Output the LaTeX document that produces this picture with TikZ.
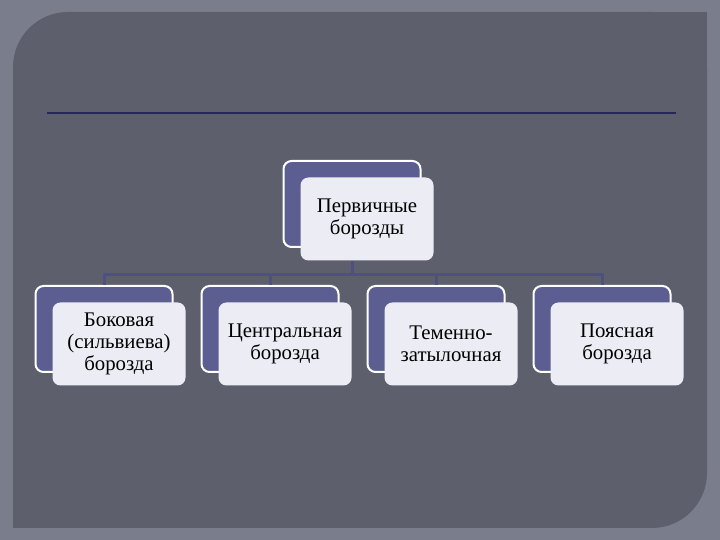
\documentclass[tikz,border=0pt]{standalone}
\usepackage{fontspec}
\setmainfont{Liberation Serif}
\usepackage{tikz}
\usetikzlibrary{positioning}
\usepackage{xcolor}
\definecolor{pagegray}{RGB}{122,125,140}
\definecolor{panelgray}{RGB}{93,96,108}
\definecolor{rulenavy}{RGB}{38,40,88}
\definecolor{boxblue}{RGB}{92,94,145}
\definecolor{boxwhite}{RGB}{236,236,245}
\definecolor{linkblue}{RGB}{78,80,128}

\begin{document}
\begin{tikzpicture}[x=1pt,y=1pt,node distance=27pt,
      back node/.style={rectangle,rounded corners=8pt,draw=white,line width=2pt,
          fill=boxblue,minimum width=137pt,minimum height=86pt},
      front node/.style={rectangle,rounded corners=8pt,fill=boxwhite,
          minimum width=133pt,minimum height=83pt,align=center,
          font=\fontsize{20.8}{22}\selectfont},
      link/.style={draw=linkblue,line width=3pt}]

    \useasboundingbox (0,0) rectangle (720,540);
    \fill[pagegray] (0,0) rectangle (720,540);
    % panel: only top left and bottom right are round
    \fill[panelgray,rounded corners=55pt] (13,12) rectangle (707,528);
    \fill[panelgray] (640,460) rectangle (707,528);
    \fill[panelgray] (13,12) rectangle (80,80);
    \draw[rulenavy,line width=1.2pt] (47,427) -- (676,427);

    \node[back node] (prim) at (352,336) {};
    \node[back node] (lat) at (104,211) {};
    \node[back node] (cen) [right=of lat] {};
    \node[back node] (par) [right=of cen] {};
    \node[back node] (cin) [right=of par] {};

    \node[front node] (primf) at ([shift={(15,-15)}]prim) {Первичные\\борозды};
    \node[front node] (latf) at ([shift={(15,-15)}]lat) {Боковая\\(сильвиева)\\борозда};
    \node[front node] (cenf) at ([shift={(15,-15)}]cen) {Центральная\\борозда};
    \node[front node] (parf) at ([shift={(15,-15)}]par) {Теменно-\\затылочная};
    \node[front node] (cinf) at ([shift={(15,-15)}]cin) {Поясная\\борозда};

    % tree lines
    \draw[link] (prim.south |- primf.south) -- ++(0,-14) coordinate (bus);
    \draw[link] (lat.north) |- (bus) -| (cin.north);
    \draw[link] (cen.north) -- (cen.north |- bus);
    \draw[link] (par.north) -- (par.north |- bus);

  \end{tikzpicture}
\end{document}
